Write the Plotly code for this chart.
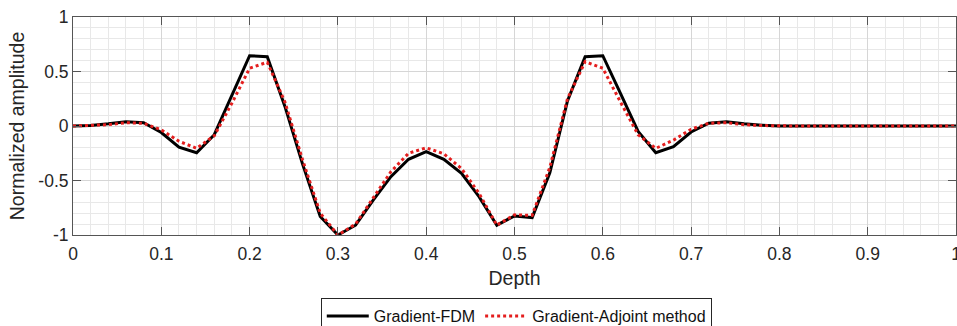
import plotly.graph_objects as go

depth = [round(i * 0.02, 2) for i in range(51)]

fdm = [0.0, 0.005, 0.02, 0.04, 0.03, -0.06, -0.195, -0.245, -0.08, 0.28,
       0.645, 0.635, 0.18, -0.35, -0.83, -1.0, -0.91, -0.68, -0.465, -0.305,
       -0.235, -0.305, -0.435, -0.65, -0.91, -0.825, -0.84, -0.43, 0.23, 0.635,
       0.645, 0.30, -0.05, -0.245, -0.19, -0.055, 0.025, 0.04, 0.02, 0.008,
       0.0, 0.0, 0.0, 0.0, 0.0, 0.0, 0.0, 0.0, 0.0, 0.0, 0.0]

adjoint = [0.0, 0.005, 0.012, 0.03, 0.025, -0.035, -0.14, -0.205, -0.09, 0.21,
           0.53, 0.585, 0.22, -0.31, -0.80, -1.0, -0.90, -0.66, -0.42, -0.25,
           -0.20, -0.255, -0.39, -0.62, -0.91, -0.815, -0.82, -0.38, 0.25, 0.59,
           0.53, 0.22, -0.08, -0.205, -0.13, -0.03, 0.025, 0.03, 0.012, 0.004,
           0.0, 0.0, 0.0, 0.0, 0.0, 0.0, 0.0, 0.0, 0.0, 0.0, 0.0]

x_ticks = [0, 0.1, 0.2, 0.3, 0.4, 0.5, 0.6, 0.7, 0.8, 0.9, 1]
x_labels = ["0", "0.1", "0.2", "0.3", "0.4", "0.5", "0.6", "0.7", "0.8", "0.9", "1"]
y_ticks = [-1, -0.5, 0, 0.5, 1]
y_labels = ["-1", "-0.5", "0", "0.5", "1"]

FONT = "Liberation Sans, Arial, sans-serif"

fig = go.Figure()
fig.add_trace(go.Scatter(x=depth, y=fdm, mode="lines", name="Gradient-FDM",
                         line=dict(color="black", width=3)))
fig.add_trace(go.Scatter(x=depth, y=adjoint, mode="lines", name="Gradient-Adjoint method",
                         line=dict(color="rgb(228,30,30)", width=3, dash="dot")))

axis_common = dict(
    showline=True, linecolor="#555555", linewidth=1, mirror="ticks",
    ticks="inside", ticklen=8, tickcolor="#555555", tickwidth=1,
    showgrid=True, gridcolor="#d6d6d6", gridwidth=1,
    zeroline=False, ticklabeloverflow="allow",
    tickfont=dict(family=FONT, size=17.5, color="#262626"),
    title_font=dict(family=FONT, size=19.5, color="#262626"),
)

fig.update_xaxes(range=[0, 1], tickvals=x_ticks, ticktext=x_labels,
                 title_text="Depth", title_standoff=8, ticklabelstandoff=3,
                 minor=dict(dtick=0.02, showgrid=True, gridcolor="#e8e8e8", gridwidth=1, ticks=""),
                 **axis_common)
fig.update_yaxes(range=[-1, 1], tickvals=y_ticks, ticktext=y_labels,
                 title_text="Normalized amplitude", title_standoff=8,
                 minor=dict(dtick=0.1, showgrid=True, gridcolor="#e8e8e8", gridwidth=1, ticks=""),
                 **axis_common)

fig.update_layout(
    width=957, height=326,
    margin=dict(l=73, r=1, t=17, b=91, autoexpand=False),
    plot_bgcolor="white", paper_bgcolor="white",
    font=dict(family=FONT, color="#262626"),
    legend=dict(orientation="h", x=0.502, xanchor="center", y=-0.289, yanchor="top",
                bordercolor="#262626", borderwidth=1, bgcolor="white",
                font=dict(family=FONT, size=16, color="#111111"), itemwidth=42,
                tracegroupgap=0),
    showlegend=True,
)

fig.write_html("out.html")
